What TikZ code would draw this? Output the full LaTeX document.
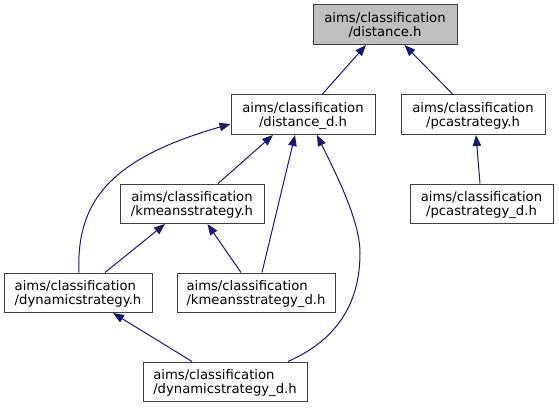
\documentclass[tikz,border=0pt]{standalone}
\usepackage{fontspec}
\setmainfont{DejaVu Sans}
\usetikzlibrary{arrows.meta}
\definecolor{edgecol}{HTML}{191970}
\definecolor{boxline}{HTML}{404040}
\definecolor{curfill}{HTML}{BFBFBF}
\newcommand{\twolines}[3][c]{\raisebox{0pt}[24pt][0pt]{\begin{tabular}[b]{@{}#1@{}}#2\\#3\end{tabular}}}
\begin{document}
\begin{tikzpicture}[x=1pt,y=-1pt,
  filebox/.style={draw=boxline, line width=1pt, fill=white, rectangle, inner sep=0pt,
    minimum height=39.5pt, font=\fontsize{13.2}{13.5}\selectfont},
  curbox/.style={filebox, fill=curfill},
  edge/.style={draw=edgecol, line width=1pt, -{Triangle[length=11pt,width=8.5pt]}}]
\useasboundingbox (0,0) rectangle (559,409);
\fill[white] (0,0) rectangle (559,409);
\node[curbox, minimum width=144pt] (dist) at (385,24.75) {\twolines{aims/classification}{/distance.h}};
\node[filebox, minimum width=144pt] (distd) at (303,114.75) {\twolines{aims/classification}{/distance\_d.h}};
\node[filebox, minimum width=144pt] (pca) at (473,114.75) {\twolines{aims/classification}{/pcastrategy.h}};
\node[filebox, minimum width=144pt] (kmeans) at (192,203.75) {\twolines{aims/classification}{/kmeansstrategy.h}};
\node[filebox, minimum width=143pt] (pcad) at (481.5,203.75) {\twolines{aims/classification}{/pcastrategy\_d.h}};
\node[filebox, minimum width=148pt] (dyn) at (78,292.75) {\twolines[l]{aims/classification}{/dynamicstrategy.h}};
\node[filebox, minimum width=158pt] (kmd) at (256,292.75) {\twolines[l]{aims/classification}{/kmeansstrategy\_d.h}};
\node[filebox, minimum width=164pt] (dynd) at (225,381.75) {\twolines[l]{aims/classification}{/dynamicstrategy\_d.h}};
\draw[edge] (distd.north -| 322,0) -- (dist.south -| 366,0);
\draw[edge] (pca.north -| 453,0) -- (dist.south -| 404.5,0);
\draw[edge] (pcad.north -| 480,0) -- (pca.south -| 476,0);
\draw[edge] (kmeans.north -| 218,0) -- (distd.south -| 273,0);
\draw[edge] (kmd.north -| 262,0) -- (distd.south -| 295,0);
\draw[edge] (dynd.north -| 288,0) .. controls (325,345) and (360,315) .. (360,253)
  .. controls (360,220) and (335,172) .. (distd.south -| 317,0);
\draw[edge] (dyn.north -| 79,0) .. controls (76,200) and (112,158) .. (distd.west |- 0,124);
\draw[edge] (dyn.north -| 105,0) -- (kmeans.south -| 165,0);
\draw[edge] (kmd.north -| 241,0) -- (kmeans.south -| 207.5,0);
\draw[edge] (dynd.north -| 192,0) -- (dyn.south -| 113,0);
\end{tikzpicture}
\end{document}
